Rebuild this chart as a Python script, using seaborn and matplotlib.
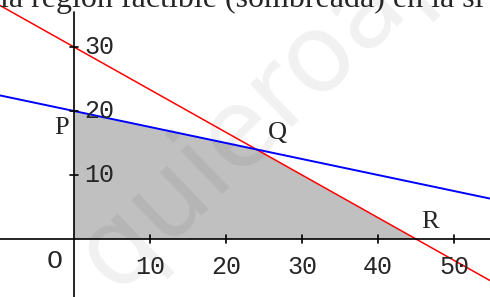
import matplotlib
matplotlib.use("Agg")
import matplotlib.pyplot as plt
import seaborn as sns
import numpy as np

# ---- data ----
red_x = [-10, 56]                       # restriction 2x + 3y = 90
red_y = [30 - 2 * v / 3 for v in red_x]
blue_x = [-10, 56]                      # restriction x + 4y = 80
blue_y = [20 - v / 4 for v in blue_x]
region_x = [0, 0, 24, 45]               # feasible region vertices O, P, Q, R
region_y = [0, 20, 14, 0]
xticks = [10, 20, 30, 40, 50]
yticks = [10, 20, 30]
point_labels = ["P", "Q", "R", "O"]
point_pos = [(-1.6, 17.3), (26.8, 16.6), (46.8, 2.6), (-2.6, -3.4)]
title_text = "la región factible (sombreada) en la si"
watermark = "quieroaprobar"

sns.set_style("white")
W, H = 490, 297
fig = plt.figure(figsize=(W / 100, H / 100), dpi=100)
ax = fig.add_axes([0, 0, 1, 1])

x0pix, xscale = 74, 7.6
y0pix, yscale = 239, 6.4
ax.set_xlim(-x0pix / xscale, (W - x0pix) / xscale)
ax.set_ylim(-(H - y0pix) / yscale, y0pix / yscale)

# shaded region
ax.fill(region_x, region_y, color="#c0c0c0", lw=0, zorder=1)

# watermark (start pixel ~ (115, 292))
wx = (115 - x0pix) / xscale
wy = (y0pix - 292) / yscale
ax.text(wx, wy, watermark, fontsize=78, color="#000000", alpha=0.06,
        rotation=44, rotation_mode="anchor", family="DejaVu Sans",
        ha="left", va="baseline", zorder=2)

# lines
sns.lineplot(x=red_x, y=red_y, ax=ax, color="#ff0000", lw=1.1, zorder=4)
sns.lineplot(x=blue_x, y=blue_y, ax=ax, color="#0000ff", lw=1.4, zorder=4)

# axes
top_y = (y0pix - 12) / yscale
ax.plot([0, 0], [ax.get_ylim()[0], top_y], color="black", lw=1.2, zorder=5)
ax.axhline(0, color="black", lw=1.2, zorder=5)
tx = 4 / xscale
ty = 4 / yscale
for t in xticks:
    ax.plot([t, t], [-ty, ty], color="black", lw=1.2, zorder=5)
for t in yticks:
    ax.plot([-tx, tx], [t, t], color="black", lw=1.2, zorder=5)

mono = "Liberation Mono"
fs = 18
for t in xticks:
    ax.text(t, -4.4, str(t), family=mono, fontsize=fs, ha="center", va="center", zorder=6)
for t in yticks:
    ax.text(1.4, t, str(t), family=mono, fontsize=fs, ha="left", va="center", zorder=6)
for lab, (px, py) in zip(point_labels, point_pos):
    fam = mono if lab == "O" else "Liberation Serif"
    ax.text(px, py, lab, family=fam, fontsize=19, ha="center", va="center", zorder=6)

ax.axis("off")
fig.text(0.0, 1 - 7 / H, title_text, family="Liberation Serif", fontsize=23,
         ha="left", va="baseline")

fig.savefig("out.png", dpi=100)
